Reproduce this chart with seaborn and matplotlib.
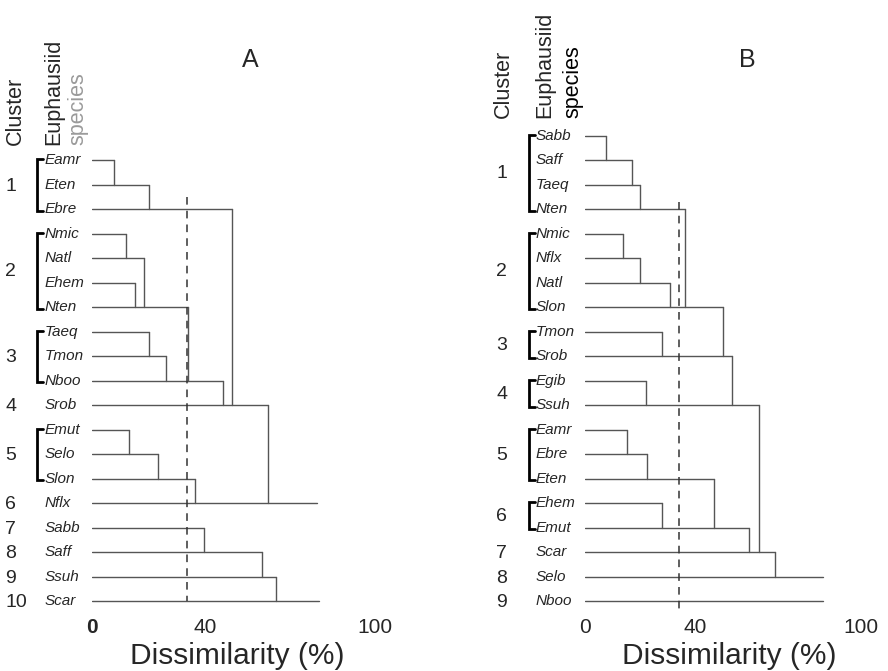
import numpy as np
import pandas as pd
import matplotlib
matplotlib.use("Agg")
import matplotlib.pyplot as plt
import seaborn as sns

# Panel A: leaves top to bottom, where each leaf line ends (% dissimilarity)
# and the leaf it drops down to at that point
species_a = ["Eamr", "Eten", "Ebre", "Nmic", "Natl", "Ehem", "Nten", "Taeq", "Tmon",
             "Nboo", "Srob", "Emut", "Selo", "Slon", "Nflx", "Sabb", "Saff", "Ssuh", "Scar"]
end_a = [7.9, 20.2, 49.4, 12.0, 18.4, 15.2, 33.8, 20.1, 26.0,
         46.3, 62.2, 13.2, 23.4, 36.4, 79.4, 39.6, 60.2, 64.9, 80.2]
join_a = ["Eten", "Ebre", "Srob", "Natl", "Nten", "Nten", "Nboo", "Tmon", "Nboo",
          "Srob", "Nflx", "Selo", "Slon", "Nflx", None, "Saff", "Ssuh", "Scar", None]
clusters_a = ["1", "2", "3", "4", "5", "6", "7", "8", "9", "10"]
cluster_sizes_a = [3, 4, 3, 1, 3, 1, 1, 1, 1, 1]
cut_a = 33.7

# Panel B
species_b = ["Sabb", "Saff", "Taeq", "Nten", "Nmic", "Nflx", "Natl", "Slon", "Tmon", "Srob",
             "Egib", "Ssuh", "Eamr", "Ebre", "Eten", "Ehem", "Emut", "Scar", "Selo", "Nboo"]
end_b = [7.6, 16.9, 19.9, 36.2, 13.9, 19.9, 30.8, 49.9, 27.8, 53.2,
         22.0, 63.0, 15.1, 22.6, 46.7, 27.8, 59.5, 68.8, 86.3, 86.3]
join_b = ["Saff", "Taeq", "Nten", "Slon", "Nflx", "Natl", "Slon", "Srob", "Srob", "Ssuh",
          "Ssuh", "Scar", "Ebre", "Eten", "Emut", "Emut", "Scar", "Selo", None, None]
clusters_b = ["1", "2", "3", "4", "5", "6", "7", "8", "9"]
cluster_sizes_b = [4, 4, 2, 2, 3, 2, 1, 1, 1]
cut_b = 34.1

x_ticks = [0, 40, 100]

sns.set_style("white")
plt.rcParams["font.family"] = ["Liberation Sans", "DejaVu Sans"]

fig = plt.figure(figsize=(8.88, 6.71), dpi=100)
# row r sits at pixel 136 + 24.5 r from the top; axes span pixels 0..612
ax_a = fig.add_axes([92 / 888, 1 - 612 / 671, 283 / 888, 612 / 671])
ax_b = fig.add_axes([585 / 888, 1 - 612 / 671, 276 / 888, 612 / 671])


def segments(species, ends, joins, first_row):
    rows = {s: first_row + i for i, s in enumerate(species)}
    recs = []
    k = 0
    for s, e, j in zip(species, ends, joins):
        r = rows[s]
        recs += [(k, 0, r), (k, e, r)]
        k += 1
        if j is not None:
            recs += [(k, e, r), (k, e, rows[j])]
            k += 1
    return pd.DataFrame(recs, columns=["seg", "x", "y"])


def draw_panel(ax, species, ends, joins, clusters, sizes, cut, cut_span, first_row, title,
               lab_x, br_x, num_x, head_x, head_bottom, title_x, grey_species, bold_zero,
               xlabel_frac):
    df = segments(species, ends, joins, first_row)
    sns.lineplot(data=df, x="x", y="y", units="seg", estimator=None, sort=False,
                 color="#555555", linewidth=1.0, ax=ax)
    ax.plot([cut, cut], list(cut_span), color="#333333",
            linewidth=1.1, linestyle=(0, (5, 4)))

    for i, s in enumerate(species):
        ax.text(lab_x, first_row + i, s, ha="left", va="center", fontsize=11,
                style="italic", clip_on=False)

    r = first_row
    for c, n in zip(clusters, sizes):
        top, bot = r, r + n - 1
        ax.text(num_x, (top + bot) / 2 + 0.05, c, ha="left", va="center", fontsize=14,
                clip_on=False)
        if n > 1:
            ax.plot([br_x[1], br_x[0], br_x[0], br_x[1]], [top - 0.05, top - 0.05, bot + 0.05, bot + 0.05],
                    color="black", linewidth=2, clip_on=False, solid_joinstyle="miter")
        r += n

    ax.text(head_x[0], head_bottom, "Cluster", rotation=90, ha="center", va="bottom",
            fontsize=15.5, clip_on=False)
    ax.text(head_x[1], head_bottom, "Euphausiid", rotation=90, ha="center", va="bottom",
            fontsize=15.5, clip_on=False)
    ax.text(head_x[2], head_bottom, "species", rotation=90, ha="center", va="bottom",
            fontsize=15.5, clip_on=False, color="#9a9a9a" if grey_species else "black")
    ax.text(title_x, -3.1, title, ha="center", va="center", fontsize=18, clip_on=False)

    ax.set_xlim(0, 100)
    ax.set_ylim(19.43, -5.551)
    ax.set_xticks(x_ticks)
    ax.set_xticklabels([str(t) for t in x_ticks], fontsize=15)
    if bold_zero:
        ax.get_xticklabels()[0].set_fontweight("bold")
    ax.tick_params(axis="x", length=0, pad=4)
    ax.set_yticks([])
    ax.set_ylabel("")
    ax.set_xlabel("Dissimilarity (%)", fontsize=21.5)
    ax.xaxis.label.set_va("center")
    ax.xaxis.set_label_coords(xlabel_frac, -(656 - 612) / 612)
    for sp in ax.spines.values():
        sp.set_visible(False)
    ax.patch.set_alpha(0)


draw_panel(ax_a, species_a, end_a, join_a, clusters_a, cluster_sizes_a, cut_a, (2.5, 19.0), 1, "A",
           lab_x=-16.6, br_x=(-19.4, -17.3), num_x=-30.7, head_x=(-27.2, -13.6, -4.8),
           head_bottom=0.37, title_x=55.8, grey_species=True, bold_zero=True,
           xlabel_frac=0.512)
draw_panel(ax_b, species_b, end_b, join_b, clusters_b, cluster_sizes_b, cut_b, (2.7, 19.5), 0, "B",
           lab_x=-17.75, br_x=(-20.3, -18.1), num_x=-32.2, head_x=(-29.5, -14.7, -4.5),
           head_bottom=-0.73, title_x=58.7, grey_species=False, bold_zero=False,
           xlabel_frac=0.522)

fig.savefig("out.png", dpi=100)
